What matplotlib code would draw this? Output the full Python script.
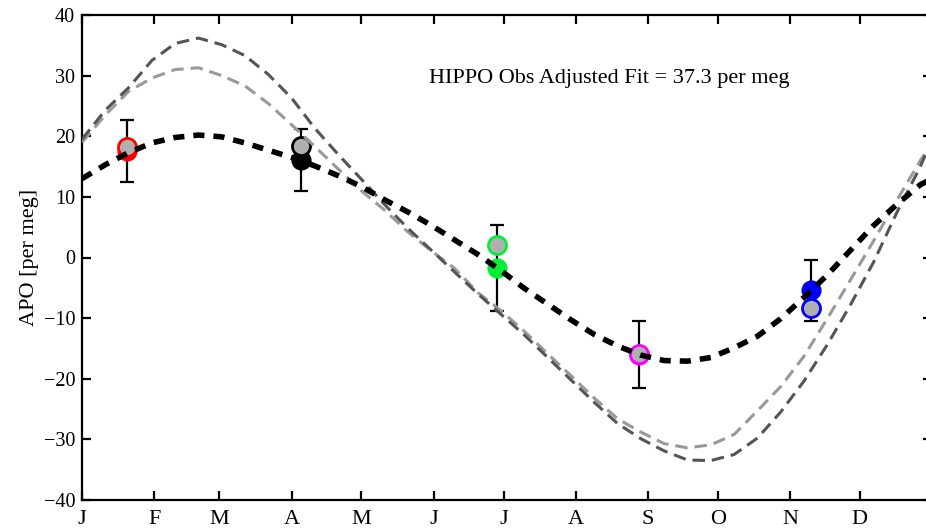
import numpy as np
import matplotlib
matplotlib.use('Agg')
import matplotlib.pyplot as plt

plt.rcParams['font.family'] = ['Liberation Serif', 'DejaVu Serif']
plt.rcParams['lines.scale_dashes'] = False

# day of year for the curves
days = [0, 10, 20, 30, 40, 50, 60, 70, 80, 90, 100, 110, 120, 130, 140, 150, 160, 170, 180,
        190, 200, 210, 220, 230, 240, 250, 260, 270, 280, 290, 300, 310, 320, 330, 340, 350, 360, 365]

# adjusted fit (thick black)
fit = [13.0, 15.3, 17.3, 18.9, 19.8, 20.2, 19.9, 18.9, 17.7, 16.5, 15.1, 13.5, 11.7, 9.5, 7.5, 5.3,
       2.9, 0.5, -2.2, -5.1, -7.7, -10.3, -12.7, -14.6, -16.1, -17.0, -17.1, -16.5, -14.9, -13.0,
       -10.1, -6.6, -2.9, 1.2, 5.3, 8.8, 12.0, 13.0]

# model curves
model_light = [19.0, 23.5, 27.4, 29.6, 31.0, 31.3, 30.0, 28.3, 25.4, 21.9, 18.3, 14.6, 11.0, 7.8,
               4.2, 1.1, -1.8, -5.8, -8.8, -12.2, -15.9, -19.5, -23.2, -26.6, -28.8, -30.7, -31.4,
               -30.9, -29.2, -25.3, -21.3, -16.3, -10.1, -3.7, 2.8, 9.5, 16.0, 19.0]
model_dark = [19.5, 24.3, 28.0, 32.5, 35.3, 36.2, 35.1, 33.3, 30.2, 26.3, 21.3, 17.0, 12.9, 8.7,
              4.8, 1.2, -2.4, -6.0, -9.4, -12.8, -16.5, -20.2, -23.9, -27.4, -29.9, -31.9, -33.4,
              -33.5, -32.5, -29.8, -25.5, -20.4, -14.4, -7.8, -0.7, 7.5, 15.0, 19.5]

# HIPPO observations
obs_day = [19.3, 94, 178, 239, 313]
obs_val = [17.6, 16.1, -1.7, -16.0, -5.4]
obs_err = [5.15, 5.1, 7.1, 5.45, 5.0]
adj_val = [18.2, 18.4, 2.1, -15.9, -8.3]
obs_col = ['#ff0000', '#000000', '#00ee33', '#ff00ff', '#0000ff']

month_start = [0, 31, 59, 90, 120, 151, 181, 212, 243, 273, 304, 334]
month_lab = ['J', 'F', 'M', 'A', 'M', 'J', 'J', 'A', 'S', 'O', 'N', 'D']

fig = plt.figure(figsize=(9.26, 5.28), dpi=100)
ax = fig.add_axes([82 / 926, 28 / 528, 850 / 926, 485 / 528])

ax.errorbar(obs_day, obs_val, yerr=obs_err, fmt='none', ecolor='black',
            elinewidth=1.6, capsize=5, capthick=1.6, zorder=2)
for d, v, a, c in zip(obs_day, obs_val, adj_val, obs_col):
    ax.plot(d, v, 'o', ms=13, mfc=c, mec=c, mew=1.5, zorder=3)
    ax.plot(d, a, 'o', ms=13, mfc='#b0b0b0', mec=c, mew=2, zorder=4)

ax.plot(days, model_light, color='#999999', lw=2.2, ls=(0, (9, 5)), zorder=5)
ax.plot(days, model_dark, color='#555555', lw=2.2, ls=(0, (9, 5)), zorder=5)
ax.plot(days, fit, color='black', lw=4, ls=(0, (8, 6.5)), zorder=6)

ax.text(149, 29.6, 'HIPPO Obs Adjusted Fit = 37.3 per meg', fontsize=16,
        ha='left', va='center')

ax.set_xlim(0, 365)
ax.set_ylim(-40, 40)
ax.set_xticks(month_start)
ax.set_xticklabels(month_lab)
ax.set_yticks(np.arange(-40, 41, 10))
ax.set_ylabel('APO [per meg]', fontsize=16, labelpad=3)
ax.tick_params(direction='in', length=6.5, width=1.6, top=True, right=True)
ax.tick_params(axis='x', labelsize=16, pad=7.5)
ax.tick_params(axis='y', labelsize=14.5, pad=5)
for s in ax.spines.values():
    s.set_linewidth(1.6)

fig.savefig('out.png', dpi=100)
